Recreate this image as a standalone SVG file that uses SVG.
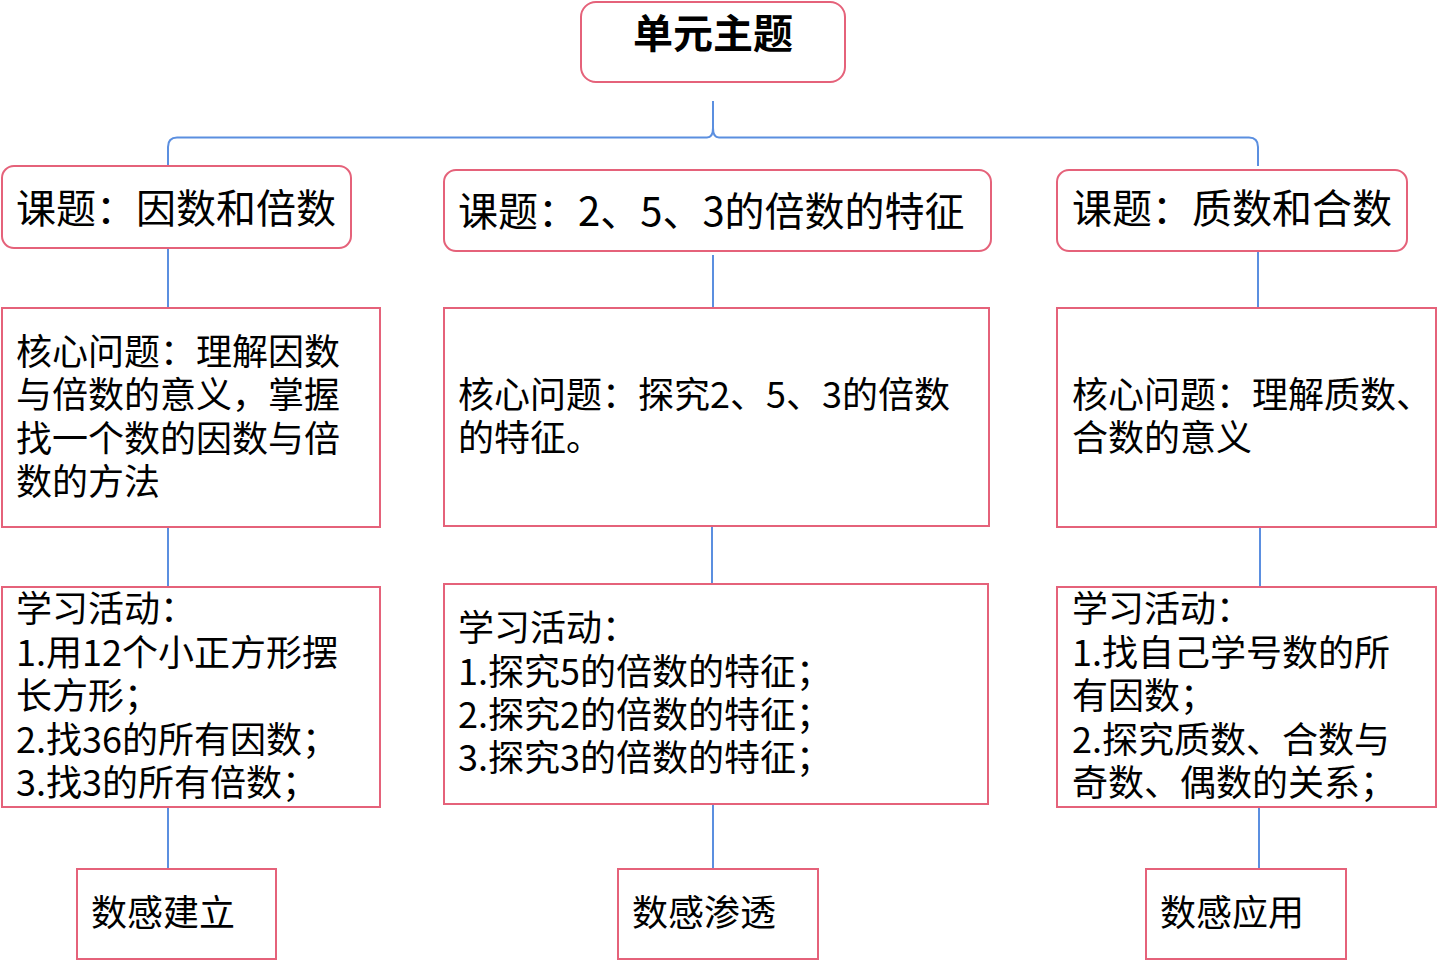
<svg xmlns="http://www.w3.org/2000/svg" width="1437" height="961" viewBox="0 0 1437 961">
<style>
  .box { fill: #ffffff; stroke: #e5627a; stroke-width: 2; }
  .conn { fill: none; stroke: #5b8fe0; stroke-width: 2; }
  text { font-family: "Noto Sans CJK SC", "Noto Sans", sans-serif; fill: #000000; }
  .title { font-size: 40px; font-weight: bold; }
  .topic { font-size: 40px; }
  .body { font-size: 36px; }
</style>
<rect width="1437" height="961" fill="#ffffff"/>
<g id="connectors">
  <path class="conn" d="M168,166 L168,147 Q168,137.5 177,137.5 L707,137.5 Q713,137.5 713,128 L713,101 L713,128 Q713,137.5 719,137.5 L1249,137.5 Q1258,137.5 1258,147 L1258,166"/>
  <line class="conn" x1="168" y1="248" x2="168" y2="308"/>
  <line class="conn" x1="168" y1="527" x2="168" y2="587"/>
  <line class="conn" x1="168" y1="807" x2="168" y2="869"/>
  <line class="conn" x1="713" y1="255" x2="713" y2="315"/>
  <line class="conn" x1="712" y1="524" x2="712" y2="584"/>
  <line class="conn" x1="713" y1="804" x2="713" y2="869"/>
  <line class="conn" x1="1258" y1="251" x2="1258" y2="312"/>
  <line class="conn" x1="1260" y1="527" x2="1260" y2="587"/>
  <line class="conn" x1="1259" y1="807" x2="1259" y2="869"/>
</g>
<g id="root">
  <rect class="box" x="581" y="2" width="264" height="80" rx="15"/>
  <text class="title" x="713" y="48" text-anchor="middle">单元主题</text>
</g>
<g id="topic1">
  <rect class="box" x="2" y="166" width="349" height="82" rx="12"/>
  <text class="topic" x="16" y="223">课题：因数和倍数</text>
</g>
<g id="topic2">
  <rect class="box" x="444" y="170" width="547" height="81" rx="12"/>
  <text class="topic" x="458" y="226">课题：2、5、3的倍数的特征</text>
</g>
<g id="topic3">
  <rect class="box" x="1057" y="170" width="350" height="81" rx="12"/>
  <text class="topic" x="1072" y="223">课题：质数和合数</text>
</g>
<g id="core1">
  <rect class="box" x="2" y="308" width="378" height="219"/>
  <text class="body" x="16" y="365">核心问题：理解因数</text>
  <text class="body" x="16" y="408">与倍数的意义，掌握</text>
  <text class="body" x="16" y="452">找一个数的因数与倍</text>
  <text class="body" x="16" y="495">数的方法</text>
</g>
<g id="core2">
  <rect class="box" x="444" y="308" width="545" height="218"/>
  <text class="body" x="458" y="408">核心问题：探究2、5、3的倍数</text>
  <text class="body" x="458" y="451">的特征。</text>
</g>
<g id="core3">
  <rect class="box" x="1057" y="308" width="379" height="219"/>
  <text class="body" x="1072" y="408">核心问题：理解质数、</text>
  <text class="body" x="1072" y="451">合数的意义</text>
</g>
<g id="activity1">
  <rect class="box" x="2" y="587" width="378" height="220"/>
  <text class="body" x="16" y="622">学习活动：</text>
  <text class="body" x="16" y="666">1.用12个小正方形摆</text>
  <text class="body" x="16" y="709">长方形；</text>
  <text class="body" x="16" y="753">2.找36的所有因数；</text>
  <text class="body" x="16" y="796">3.找3的所有倍数；</text>
</g>
<g id="activity2">
  <rect class="box" x="444" y="584" width="544" height="220"/>
  <text class="body" x="458" y="641">学习活动：</text>
  <text class="body" x="458" y="685">1.探究5的倍数的特征；</text>
  <text class="body" x="458" y="728">2.探究2的倍数的特征；</text>
  <text class="body" x="458" y="771">3.探究3的倍数的特征；</text>
</g>
<g id="activity3">
  <rect class="box" x="1057" y="587" width="379" height="220"/>
  <text class="body" x="1072" y="622">学习活动：</text>
  <text class="body" x="1072" y="666">1.找自己学号数的所</text>
  <text class="body" x="1072" y="709">有因数；</text>
  <text class="body" x="1072" y="753">2.探究质数、合数与</text>
  <text class="body" x="1072" y="796">奇数、偶数的关系；</text>
</g>
<g id="sense1">
  <rect class="box" x="77" y="869" width="199" height="90"/>
  <text class="body" x="91" y="926">数感建立</text>
</g>
<g id="sense2">
  <rect class="box" x="618" y="869" width="200" height="90"/>
  <text class="body" x="632" y="926">数感渗透</text>
</g>
<g id="sense3">
  <rect class="box" x="1146" y="869" width="200" height="90"/>
  <text class="body" x="1160" y="926">数感应用</text>
</g>
</svg>
